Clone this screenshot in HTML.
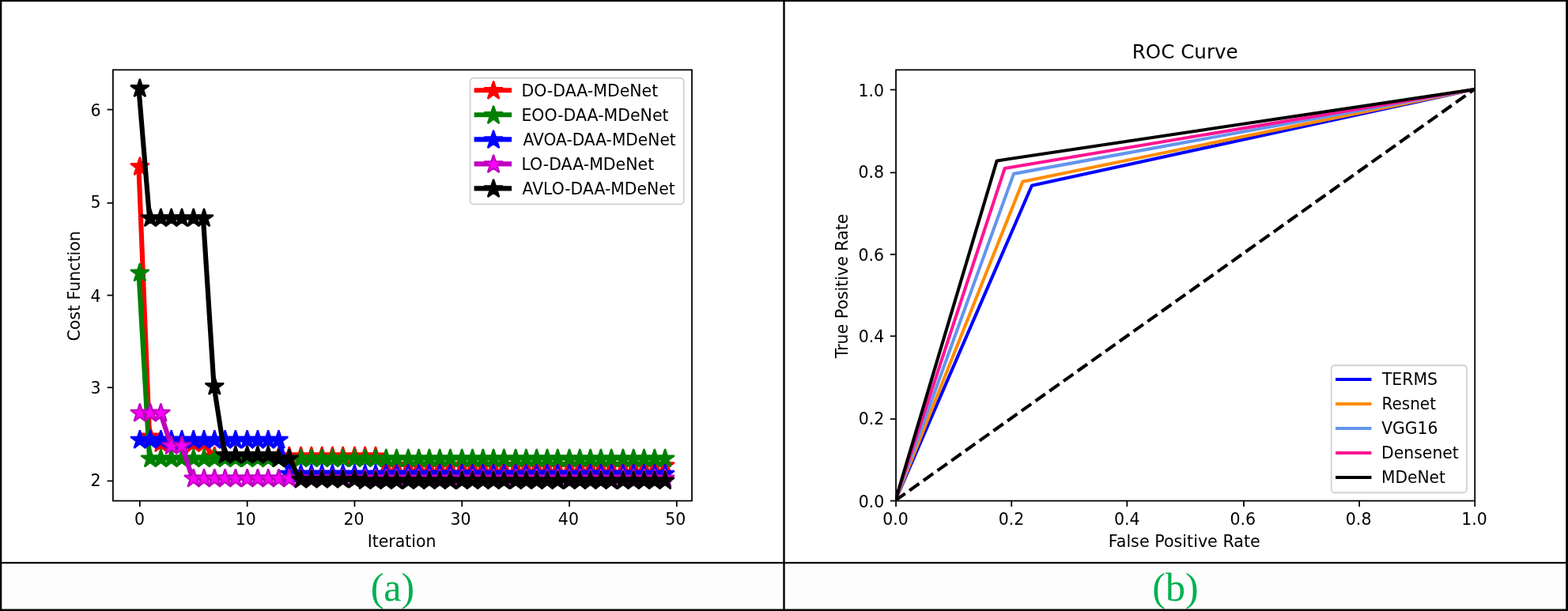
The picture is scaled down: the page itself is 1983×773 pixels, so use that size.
<!DOCTYPE html>
<html lang="en">
<head>
<meta charset="utf-8">
<title>Cost function convergence and ROC curve</title>
<style>
html,body{margin:0;padding:0;background:#fff;}
body{width:1983px;height:773px;overflow:hidden;position:relative;}
#fig{position:absolute;left:0;top:0;width:1983px;height:773px;background:#fff;overflow:hidden;}
#fig svg{position:absolute;left:0;top:0;display:block;}
#fig svg text{font-family:"DejaVu Sans", "Liberation Sans", sans-serif;fill:#000;}
#fig svg .cap text{font-family:"Liberation Serif","Times New Roman",serif;font-size:50px;fill:#00b050;}
</style>
</head>
<body>
<div id="fig">
<svg width="1983" height="773" viewBox="0 0 1983 773">
<rect x="2" y="713" width="1979" height="58" fill="#fdfdfd"/>
<g id="chart-a" transform="translate(24.07 1.97) scale(1.4761 1.4775)">
<defs>
<marker id="m0" markerUnits="userSpaceOnUse" markerWidth="20" markerHeight="20" viewBox="-10 -10 20 20" refX="0" refY="0" orient="0" overflow="visible"><polygon points="0,-8.33 -1.87,-2.58 -7.93,-2.58 -3.03,0.98 -4.9,6.74 0,3.18 4.9,6.74 3.03,0.98 7.93,-2.58 1.87,-2.58" fill="#ff0000" stroke="#ff0000" stroke-width="1.5" stroke-linejoin="bevel"/></marker>
<marker id="m1" markerUnits="userSpaceOnUse" markerWidth="20" markerHeight="20" viewBox="-10 -10 20 20" refX="0" refY="0" orient="0" overflow="visible"><polygon points="0,-8.33 -1.87,-2.58 -7.93,-2.58 -3.03,0.98 -4.9,6.74 0,3.18 4.9,6.74 3.03,0.98 7.93,-2.58 1.87,-2.58" fill="#008000" stroke="#008000" stroke-width="1.5" stroke-linejoin="bevel"/></marker>
<marker id="m2" markerUnits="userSpaceOnUse" markerWidth="20" markerHeight="20" viewBox="-10 -10 20 20" refX="0" refY="0" orient="0" overflow="visible"><polygon points="0,-8.33 -1.87,-2.58 -7.93,-2.58 -3.03,0.98 -4.9,6.74 0,3.18 4.9,6.74 3.03,0.98 7.93,-2.58 1.87,-2.58" fill="#0000ff" stroke="#0000ff" stroke-width="1.5" stroke-linejoin="bevel"/></marker>
<marker id="m3" markerUnits="userSpaceOnUse" markerWidth="20" markerHeight="20" viewBox="-10 -10 20 20" refX="0" refY="0" orient="0" overflow="visible"><polygon points="0,-8.33 -1.87,-2.58 -7.93,-2.58 -3.03,0.98 -4.9,6.74 0,3.18 4.9,6.74 3.03,0.98 7.93,-2.58 1.87,-2.58" fill="#ff00ff" stroke="#bf00bf" stroke-width="1.5" stroke-linejoin="bevel"/></marker>
<marker id="m4" markerUnits="userSpaceOnUse" markerWidth="20" markerHeight="20" viewBox="-10 -10 20 20" refX="0" refY="0" orient="0" overflow="visible"><polygon points="0,-8.33 -1.87,-2.58 -7.93,-2.58 -3.03,0.98 -4.9,6.74 0,3.18 4.9,6.74 3.03,0.98 7.93,-2.58 1.87,-2.58" fill="#000000" stroke="#000000" stroke-width="1.5" stroke-linejoin="bevel"/></marker>
<clipPath id="clipL"><rect x="80" y="57.6" width="496" height="369.6"/></clipPath>
</defs>
<g clip-path="url(#clipL)" fill="none" stroke-linejoin="round" stroke-linecap="square">
<polyline points="102.55,141.47 111.75,372.06 120.95,378.41 130.15,378.41 139.35,378.41 148.56,378.41 157.76,378.41 166.96,389.37 176.16,389.37 185.37,389.37 194.57,389.37 203.77,389.37 212.97,389.37 222.17,389.37 231.38,389.37 240.58,389.37 249.78,389.37 258.98,389.37 268.19,389.37 277.39,389.37 286.59,389.37 295.79,389.37 304.99,389.37 314.2,396.59 323.4,396.59 332.6,396.59 341.8,396.59 351.01,396.59 360.21,396.59 369.41,396.59 378.61,396.59 387.81,396.59 397.02,396.59 406.22,396.59 415.42,396.59 424.62,396.59 433.83,396.59 443.03,396.59 452.23,396.59 461.43,396.59 470.63,396.59 479.84,396.59 489.04,396.59 498.24,396.59 507.44,396.59 516.65,396.59 525.85,396.59 535.05,396.59 544.25,396.59 553.45,396.59" stroke="#ff0000" stroke-width="4.17"/>
<polyline points="103.5,141.5 112.5,372.5 121.5,378.5 130.5,378.5 139.5,378.5 149.5,378.5 158.5,378.5 167.5,389.5 176.5,389.5 185.5,389.5 195.5,389.5 204.5,389.5 213.5,389.5 222.5,389.5 231.5,389.5 241.5,389.5 250.5,389.5 259.5,389.5 268.5,389.5 277.5,389.5 287.5,389.5 296.5,389.5 305.5,389.5 314.5,397.5 323.5,397.5 333.5,397.5 342.5,397.5 351.5,397.5 360.5,397.5 369.5,397.5 379.5,397.5 388.5,397.5 397.5,397.5 406.5,397.5 415.5,397.5 425.5,397.5 434.5,397.5 443.5,397.5 452.5,397.5 461.5,397.5 471.5,397.5 480.5,397.5 489.5,397.5 498.5,397.5 507.5,397.5 517.5,397.5 526.5,397.5 535.5,397.5 544.5,397.5 553.5,397.5" stroke="none" marker-start="url(#m0)" marker-mid="url(#m0)" marker-end="url(#m0)"/>
<polyline points="102.55,231.96 111.75,391.03 120.95,391.03 130.15,391.03 139.35,391.03 148.56,391.03 157.76,391.03 166.96,391.03 176.16,391.03 185.37,391.03 194.57,391.03 203.77,391.03 212.97,391.03 222.17,391.03 231.38,391.03 240.58,391.03 249.78,391.03 258.98,391.03 268.19,391.03 277.39,391.03 286.59,391.03 295.79,391.03 304.99,391.03 314.2,391.03 323.4,391.03 332.6,391.03 341.8,391.03 351.01,391.03 360.21,391.03 369.41,391.03 378.61,391.03 387.81,391.03 397.02,391.03 406.22,391.03 415.42,391.03 424.62,391.03 433.83,391.03 443.03,391.03 452.23,391.03 461.43,391.03 470.63,391.03 479.84,391.03 489.04,391.03 498.24,391.03 507.44,391.03 516.65,391.03 525.85,391.03 535.05,391.03 544.25,391.03 553.45,391.03" stroke="#008000" stroke-width="4.17"/>
<polyline points="103.5,232.5 112.5,391.5 121.5,391.5 130.5,391.5 139.5,391.5 149.5,391.5 158.5,391.5 167.5,391.5 176.5,391.5 185.5,391.5 195.5,391.5 204.5,391.5 213.5,391.5 222.5,391.5 231.5,391.5 241.5,391.5 250.5,391.5 259.5,391.5 268.5,391.5 277.5,391.5 287.5,391.5 296.5,391.5 305.5,391.5 314.5,391.5 323.5,391.5 333.5,391.5 342.5,391.5 351.5,391.5 360.5,391.5 369.5,391.5 379.5,391.5 388.5,391.5 397.5,391.5 406.5,391.5 415.5,391.5 425.5,391.5 434.5,391.5 443.5,391.5 452.5,391.5 461.5,391.5 471.5,391.5 480.5,391.5 489.5,391.5 498.5,391.5 507.5,391.5 517.5,391.5 526.5,391.5 535.5,391.5 544.5,391.5 553.5,391.5" stroke="none" marker-start="url(#m1)" marker-mid="url(#m1)" marker-end="url(#m1)"/>
<polyline points="102.55,375.24 111.75,375.24 120.95,375.24 130.15,375.24 139.35,375.24 148.56,375.24 157.76,375.24 166.96,375.24 176.16,375.24 185.37,375.24 194.57,375.24 203.77,375.24 212.97,375.24 222.17,375.24 231.38,404.21 240.58,404.21 249.78,404.21 258.98,404.21 268.19,404.21 277.39,404.21 286.59,404.21 295.79,404.21 304.99,404.21 314.2,404.21 323.4,404.21 332.6,404.21 341.8,404.21 351.01,404.21 360.21,404.21 369.41,404.21 378.61,404.21 387.81,404.21 397.02,404.21 406.22,404.21 415.42,404.21 424.62,404.21 433.83,404.21 443.03,404.21 452.23,404.21 461.43,404.21 470.63,404.21 479.84,404.21 489.04,404.21 498.24,404.21 507.44,404.21 516.65,404.21 525.85,404.21 535.05,404.21 544.25,404.21 553.45,404.21" stroke="#0000ff" stroke-width="4.17"/>
<polyline points="103.5,375.5 112.5,375.5 121.5,375.5 130.5,375.5 139.5,375.5 149.5,375.5 158.5,375.5 167.5,375.5 176.5,375.5 185.5,375.5 195.5,375.5 204.5,375.5 213.5,375.5 222.5,375.5 231.5,404.5 241.5,404.5 250.5,404.5 259.5,404.5 268.5,404.5 277.5,404.5 287.5,404.5 296.5,404.5 305.5,404.5 314.5,404.5 323.5,404.5 333.5,404.5 342.5,404.5 351.5,404.5 360.5,404.5 369.5,404.5 379.5,404.5 388.5,404.5 397.5,404.5 406.5,404.5 415.5,404.5 425.5,404.5 434.5,404.5 443.5,404.5 452.5,404.5 461.5,404.5 471.5,404.5 480.5,404.5 489.5,404.5 498.5,404.5 507.5,404.5 517.5,404.5 526.5,404.5 535.5,404.5 544.5,404.5 553.5,404.5" stroke="none" marker-start="url(#m2)" marker-mid="url(#m2)" marker-end="url(#m2)"/>
<polyline points="102.55,351.82 111.75,351.82 120.95,351.82 130.15,379.6 139.35,379.6 148.56,408.18 157.76,408.18 166.96,408.18 176.16,408.18 185.37,408.18 194.57,408.18 203.77,408.18 212.97,408.18 222.17,408.18 231.38,408.18 240.58,408.18 249.78,408.18 258.98,408.18 268.19,408.18 277.39,408.18 286.59,408.18 295.79,408.18 304.99,408.18 314.2,408.18 323.4,408.18 332.6,408.18 341.8,408.18 351.01,408.18 360.21,408.18 369.41,408.18 378.61,408.18 387.81,408.18 397.02,408.18 406.22,408.18 415.42,408.18 424.62,408.18 433.83,408.18 443.03,408.18 452.23,408.18 461.43,408.18 470.63,408.18 479.84,408.18 489.04,408.18 498.24,408.18 507.44,408.18 516.65,408.18 525.85,408.18 535.05,408.18 544.25,408.18 553.45,408.18" stroke="#bf00bf" stroke-width="4.17"/>
<polyline points="103.5,352.5 112.5,352.5 121.5,352.5 130.5,380.5 139.5,380.5 149.5,408.5 158.5,408.5 167.5,408.5 176.5,408.5 185.5,408.5 195.5,408.5 204.5,408.5 213.5,408.5 222.5,408.5 231.5,408.5 241.5,408.5 250.5,408.5 259.5,408.5 268.5,408.5 277.5,408.5 287.5,408.5 296.5,408.5 305.5,408.5 314.5,408.5 323.5,408.5 333.5,408.5 342.5,408.5 351.5,408.5 360.5,408.5 369.5,408.5 379.5,408.5 388.5,408.5 397.5,408.5 406.5,408.5 415.5,408.5 425.5,408.5 434.5,408.5 443.5,408.5 452.5,408.5 461.5,408.5 471.5,408.5 480.5,408.5 489.5,408.5 498.5,408.5 507.5,408.5 517.5,408.5 526.5,408.5 535.5,408.5 544.5,408.5 553.5,408.5" stroke="none" marker-start="url(#m3)" marker-mid="url(#m3)" marker-end="url(#m3)"/>
<polyline points="102.55,74.4 111.75,185.13 120.95,185.13 130.15,185.13 139.35,185.13 148.56,185.13 157.76,185.13 166.96,328.96 176.16,387.94 185.37,387.94 194.57,387.94 203.77,387.94 212.97,387.94 222.17,390.71 231.38,390.71 240.58,409.21 249.78,409.21 258.98,409.21 268.19,409.21 277.39,409.21 286.59,409.21 295.79,410.4 304.99,410.4 314.2,410.4 323.4,410.4 332.6,410.4 341.8,410.4 351.01,410.4 360.21,410.4 369.41,410.4 378.61,410.4 387.81,410.4 397.02,410.4 406.22,410.4 415.42,410.4 424.62,410.4 433.83,410.4 443.03,410.4 452.23,410.4 461.43,410.4 470.63,410.4 479.84,410.4 489.04,410.4 498.24,410.4 507.44,410.4 516.65,410.4 525.85,410.4 535.05,410.4 544.25,410.4 553.45,410.4" stroke="#000000" stroke-width="4.17"/>
<polyline points="103.5,74.5 112.5,185.5 121.5,185.5 130.5,185.5 139.5,185.5 149.5,185.5 158.5,185.5 167.5,329.5 176.5,388.5 185.5,388.5 195.5,388.5 204.5,388.5 213.5,388.5 222.5,391.5 231.5,391.5 241.5,409.5 250.5,409.5 259.5,409.5 268.5,409.5 277.5,409.5 287.5,409.5 296.5,410.5 305.5,410.5 314.5,410.5 323.5,410.5 333.5,410.5 342.5,410.5 351.5,410.5 360.5,410.5 369.5,410.5 379.5,410.5 388.5,410.5 397.5,410.5 406.5,410.5 415.5,410.5 425.5,410.5 434.5,410.5 443.5,410.5 452.5,410.5 461.5,410.5 471.5,410.5 480.5,410.5 489.5,410.5 498.5,410.5 507.5,410.5 517.5,410.5 526.5,410.5 535.5,410.5 544.5,410.5 553.5,410.5" stroke="none" marker-start="url(#m4)" marker-mid="url(#m4)" marker-end="url(#m4)"/>
</g>
<g stroke="#000" stroke-width="1.2" fill="none">
<line x1="103.5" y1="427.5" x2="103.5" y2="432.46"/>
<line x1="195.5" y1="427.5" x2="195.5" y2="432.46"/>
<line x1="287.5" y1="427.5" x2="287.5" y2="432.46"/>
<line x1="379.5" y1="427.5" x2="379.5" y2="432.46"/>
<line x1="471.5" y1="427.5" x2="471.5" y2="432.46"/>
<line x1="563.5" y1="427.5" x2="563.5" y2="432.46"/>
<line x1="80.5" y1="410.5" x2="75.54" y2="410.5"/>
<line x1="80.5" y1="330.5" x2="75.54" y2="330.5"/>
<line x1="80.5" y1="251.5" x2="75.54" y2="251.5"/>
<line x1="80.5" y1="172.5" x2="75.54" y2="172.5"/>
<line x1="80.5" y1="92.5" x2="75.54" y2="92.5"/>
</g>
<rect x="80.5" y="58.5" width="496" height="369" fill="none" stroke="#000" stroke-width="1.2"/>
<rect x="386.5" y="65.5" width="183" height="108" rx="2.78" ry="2.78" fill="#fff" fill-opacity="0.8" stroke="#d2d2d2" stroke-width="1.25"/>
<line x1="392" y1="76" x2="420" y2="76" stroke="#ff0000" stroke-width="4.17" stroke-linecap="square"/>
<polygon points="0,-8.33 -1.87,-2.58 -7.93,-2.58 -3.03,0.98 -4.9,6.74 0,3.18 4.9,6.74 3.03,0.98 7.93,-2.58 1.87,-2.58" transform="translate(406.5 76.5)" fill="#ff0000" stroke="#ff0000" stroke-width="1.5" stroke-linejoin="bevel"/>
<line x1="392" y1="97" x2="420" y2="97" stroke="#008000" stroke-width="4.17" stroke-linecap="square"/>
<polygon points="0,-8.33 -1.87,-2.58 -7.93,-2.58 -3.03,0.98 -4.9,6.74 0,3.18 4.9,6.74 3.03,0.98 7.93,-2.58 1.87,-2.58" transform="translate(406.5 97.5)" fill="#008000" stroke="#008000" stroke-width="1.5" stroke-linejoin="bevel"/>
<line x1="392" y1="118" x2="420" y2="118" stroke="#0000ff" stroke-width="4.17" stroke-linecap="square"/>
<polygon points="0,-8.33 -1.87,-2.58 -7.93,-2.58 -3.03,0.98 -4.9,6.74 0,3.18 4.9,6.74 3.03,0.98 7.93,-2.58 1.87,-2.58" transform="translate(406.5 118.5)" fill="#0000ff" stroke="#0000ff" stroke-width="1.5" stroke-linejoin="bevel"/>
<line x1="392" y1="139" x2="420" y2="139" stroke="#bf00bf" stroke-width="4.17" stroke-linecap="square"/>
<polygon points="0,-8.33 -1.87,-2.58 -7.93,-2.58 -3.03,0.98 -4.9,6.74 0,3.18 4.9,6.74 3.03,0.98 7.93,-2.58 1.87,-2.58" transform="translate(406.5 139.5)" fill="#ff00ff" stroke="#bf00bf" stroke-width="1.5" stroke-linejoin="bevel"/>
<line x1="392" y1="160" x2="420" y2="160" stroke="#000000" stroke-width="4.17" stroke-linecap="square"/>
<polygon points="0,-8.33 -1.87,-2.58 -7.93,-2.58 -3.03,0.98 -4.9,6.74 0,3.18 4.9,6.74 3.03,0.98 7.93,-2.58 1.87,-2.58" transform="translate(406.5 160.5)" fill="#000000" stroke="#000000" stroke-width="1.5" stroke-linejoin="bevel"/>
<text x="98.85" y="448" text-anchor="start" font-size="13.889">0</text>
<text x="185.42" y="448" text-anchor="start" font-size="13.889">10</text>
<text x="278.11" y="448" text-anchor="start" font-size="13.889">20</text>
<text x="369.52" y="448" text-anchor="start" font-size="13.889">30</text>
<text x="461.88" y="448" text-anchor="start" font-size="13.889">40</text>
<text x="553.57" y="448" text-anchor="start" font-size="13.889">50</text>
<text x="298.5" y="467" text-anchor="start" font-size="13.889">Iteration</text>
<text x="61.32" y="415" text-anchor="start" font-size="13.889">2</text>
<text x="61.32" y="336" text-anchor="start" font-size="13.889">3</text>
<text x="61.32" y="257" text-anchor="start" font-size="13.889">4</text>
<text x="61.32" y="177" text-anchor="start" font-size="13.889">5</text>
<text x="61.2" y="98" text-anchor="start" font-size="13.889">6</text>
<text x="52.24" y="290.74" text-anchor="start" font-size="13.889" transform="rotate(-90 52.24 290.74)">Cost Function</text>
<text x="430.41" y="81" text-anchor="start" font-size="13.889">DO-DAA-MDeNet</text>
<text x="430.41" y="102" text-anchor="start" font-size="13.889">EOO-DAA-MDeNet</text>
<text x="431.83" y="123" text-anchor="start" font-size="13.889" textLength="130.92" lengthAdjust="spacingAndGlyphs">AVOA-DAA-MDeNet</text>
<text x="430.41" y="144" text-anchor="start" font-size="13.889">LO-DAA-MDeNet</text>
<text x="431.16" y="165" text-anchor="start" font-size="13.889" textLength="130.91" lengthAdjust="spacingAndGlyphs">AVLO-DAA-MDeNet</text>
</g>
<g id="chart-b" transform="translate(1014.27 1.97) scale(1.4761 1.4775)">
<defs><clipPath id="clipR"><rect x="80" y="57.6" width="496" height="369.6"/></clipPath></defs>
<g clip-path="url(#clipR)" fill="none" stroke-width="2.78" stroke-linejoin="round" stroke-linecap="square">
<polyline points="80,427.2 196.91,157.53 576,75.2" stroke="#0000ff"/>
<polyline points="80,427.2 189.07,154.22 576,75.2" stroke="#ff8c00"/>
<polyline points="80,427.2 181.38,147.47 576,75.2" stroke="#6495ed"/>
<polyline points="80,427.2 173.69,142.82 576,75.2" stroke="#ff1493"/>
<polyline points="80,427.2 166.95,136.34 576,75.2" stroke="#000000"/>
<line x1="80" y1="427.2" x2="576" y2="75.2" stroke="#000" stroke-linecap="butt" stroke-dasharray="10.28 4.44"/>
</g>
<g stroke="#000" stroke-width="1.2" fill="none">
<line x1="80.5" y1="427.5" x2="80.5" y2="432.46"/>
<line x1="80.5" y1="427.5" x2="75.54" y2="427.5"/>
<line x1="179.5" y1="427.5" x2="179.5" y2="432.46"/>
<line x1="80.5" y1="357.5" x2="75.54" y2="357.5"/>
<line x1="278.5" y1="427.5" x2="278.5" y2="432.46"/>
<line x1="80.5" y1="286.5" x2="75.54" y2="286.5"/>
<line x1="378.5" y1="427.5" x2="378.5" y2="432.46"/>
<line x1="80.5" y1="216.5" x2="75.54" y2="216.5"/>
<line x1="477.5" y1="427.5" x2="477.5" y2="432.46"/>
<line x1="80.5" y1="146.5" x2="75.54" y2="146.5"/>
<line x1="576.5" y1="427.5" x2="576.5" y2="432.46"/>
<line x1="80.5" y1="75.5" x2="75.54" y2="75.5"/>
</g>
<rect x="80.5" y="58.5" width="496" height="369" fill="none" stroke="#000" stroke-width="1.2"/>
<rect x="453.5" y="311.5" width="116" height="109" rx="2.78" ry="2.78" fill="#fff" fill-opacity="0.8" stroke="#d2d2d2" stroke-width="1.25"/>
<line x1="458.5" y1="323.5" x2="486.5" y2="323.5" stroke="#0000ff" stroke-width="2.78" stroke-linecap="square"/>
<line x1="458.5" y1="344.5" x2="486.5" y2="344.5" stroke="#ff8c00" stroke-width="2.78" stroke-linecap="square"/>
<line x1="458.5" y1="365.5" x2="486.5" y2="365.5" stroke="#6495ed" stroke-width="2.78" stroke-linecap="square"/>
<line x1="458.5" y1="386.5" x2="486.5" y2="386.5" stroke="#ff1493" stroke-width="2.78" stroke-linecap="square"/>
<line x1="458.5" y1="407.5" x2="486.5" y2="407.5" stroke="#000000" stroke-width="2.78" stroke-linecap="square"/>
<text x="69.06" y="448" text-anchor="start" font-size="13.889">0.0</text>
<text x="168.26" y="448" text-anchor="start" font-size="13.889">0.2</text>
<text x="267.46" y="448" text-anchor="start" font-size="13.889">0.4</text>
<text x="366.6" y="448" text-anchor="start" font-size="13.889">0.6</text>
<text x="465.8" y="448" text-anchor="start" font-size="13.889">0.8</text>
<text x="565" y="448" text-anchor="start" font-size="13.889">1.0</text>
<text x="262.49" y="467" text-anchor="start" font-size="13.889" textLength="130.12" lengthAdjust="spacingAndGlyphs">False Positive Rate</text>
<text x="48.4" y="433" text-anchor="start" font-size="13.889">0.0</text>
<text x="48.4" y="362" text-anchor="start" font-size="13.889">0.2</text>
<text x="48.4" y="292" text-anchor="start" font-size="13.889">0.4</text>
<text x="48.28" y="222" text-anchor="start" font-size="13.889">0.6</text>
<text x="48.28" y="151" text-anchor="start" font-size="13.889">0.8</text>
<text x="48.28" y="81" text-anchor="start" font-size="13.889">1.0</text>
<text x="39.11" y="305.49" text-anchor="start" font-size="13.889" transform="rotate(-90 39.11 305.49)">True Positive Rate</text>
<text x="282.81" y="49" text-anchor="start" font-size="16.667">ROC Curve</text>
<text x="496.99" y="328" text-anchor="start" font-size="13.889" textLength="47.47" lengthAdjust="spacingAndGlyphs">TERMS</text>
<text x="496.72" y="349" text-anchor="start" font-size="13.889" textLength="46.41" lengthAdjust="spacingAndGlyphs">Resnet</text>
<text x="496.52" y="370" text-anchor="start" font-size="13.889" textLength="48.26" lengthAdjust="spacingAndGlyphs">VGG16</text>
<text x="496.45" y="391" text-anchor="start" font-size="13.889" textLength="66.22" lengthAdjust="spacingAndGlyphs">Densenet</text>
<text x="496.45" y="412" text-anchor="start" font-size="13.889" textLength="54.77" lengthAdjust="spacingAndGlyphs">MDeNet</text>
</g>
<g id="captions" class="cap" text-anchor="middle">
<text x="496.4" y="760.3">(a)</text>
<text x="1486.5" y="760.3">(b)</text>
</g>
<g id="table-rules" fill="#000">
<rect x="0" y="0" width="1983" height="2.1"/>
<rect x="0" y="770.5" width="1983" height="2.5"/>
<rect x="0" y="0" width="2.3" height="773"/>
<rect x="1980.2" y="0" width="2.8" height="773"/>
<rect x="990.3" y="0" width="2.4" height="773"/>
<rect x="0" y="710.9" width="1983" height="2.2"/>
</g>
</svg>
</div>
</body>
</html>
